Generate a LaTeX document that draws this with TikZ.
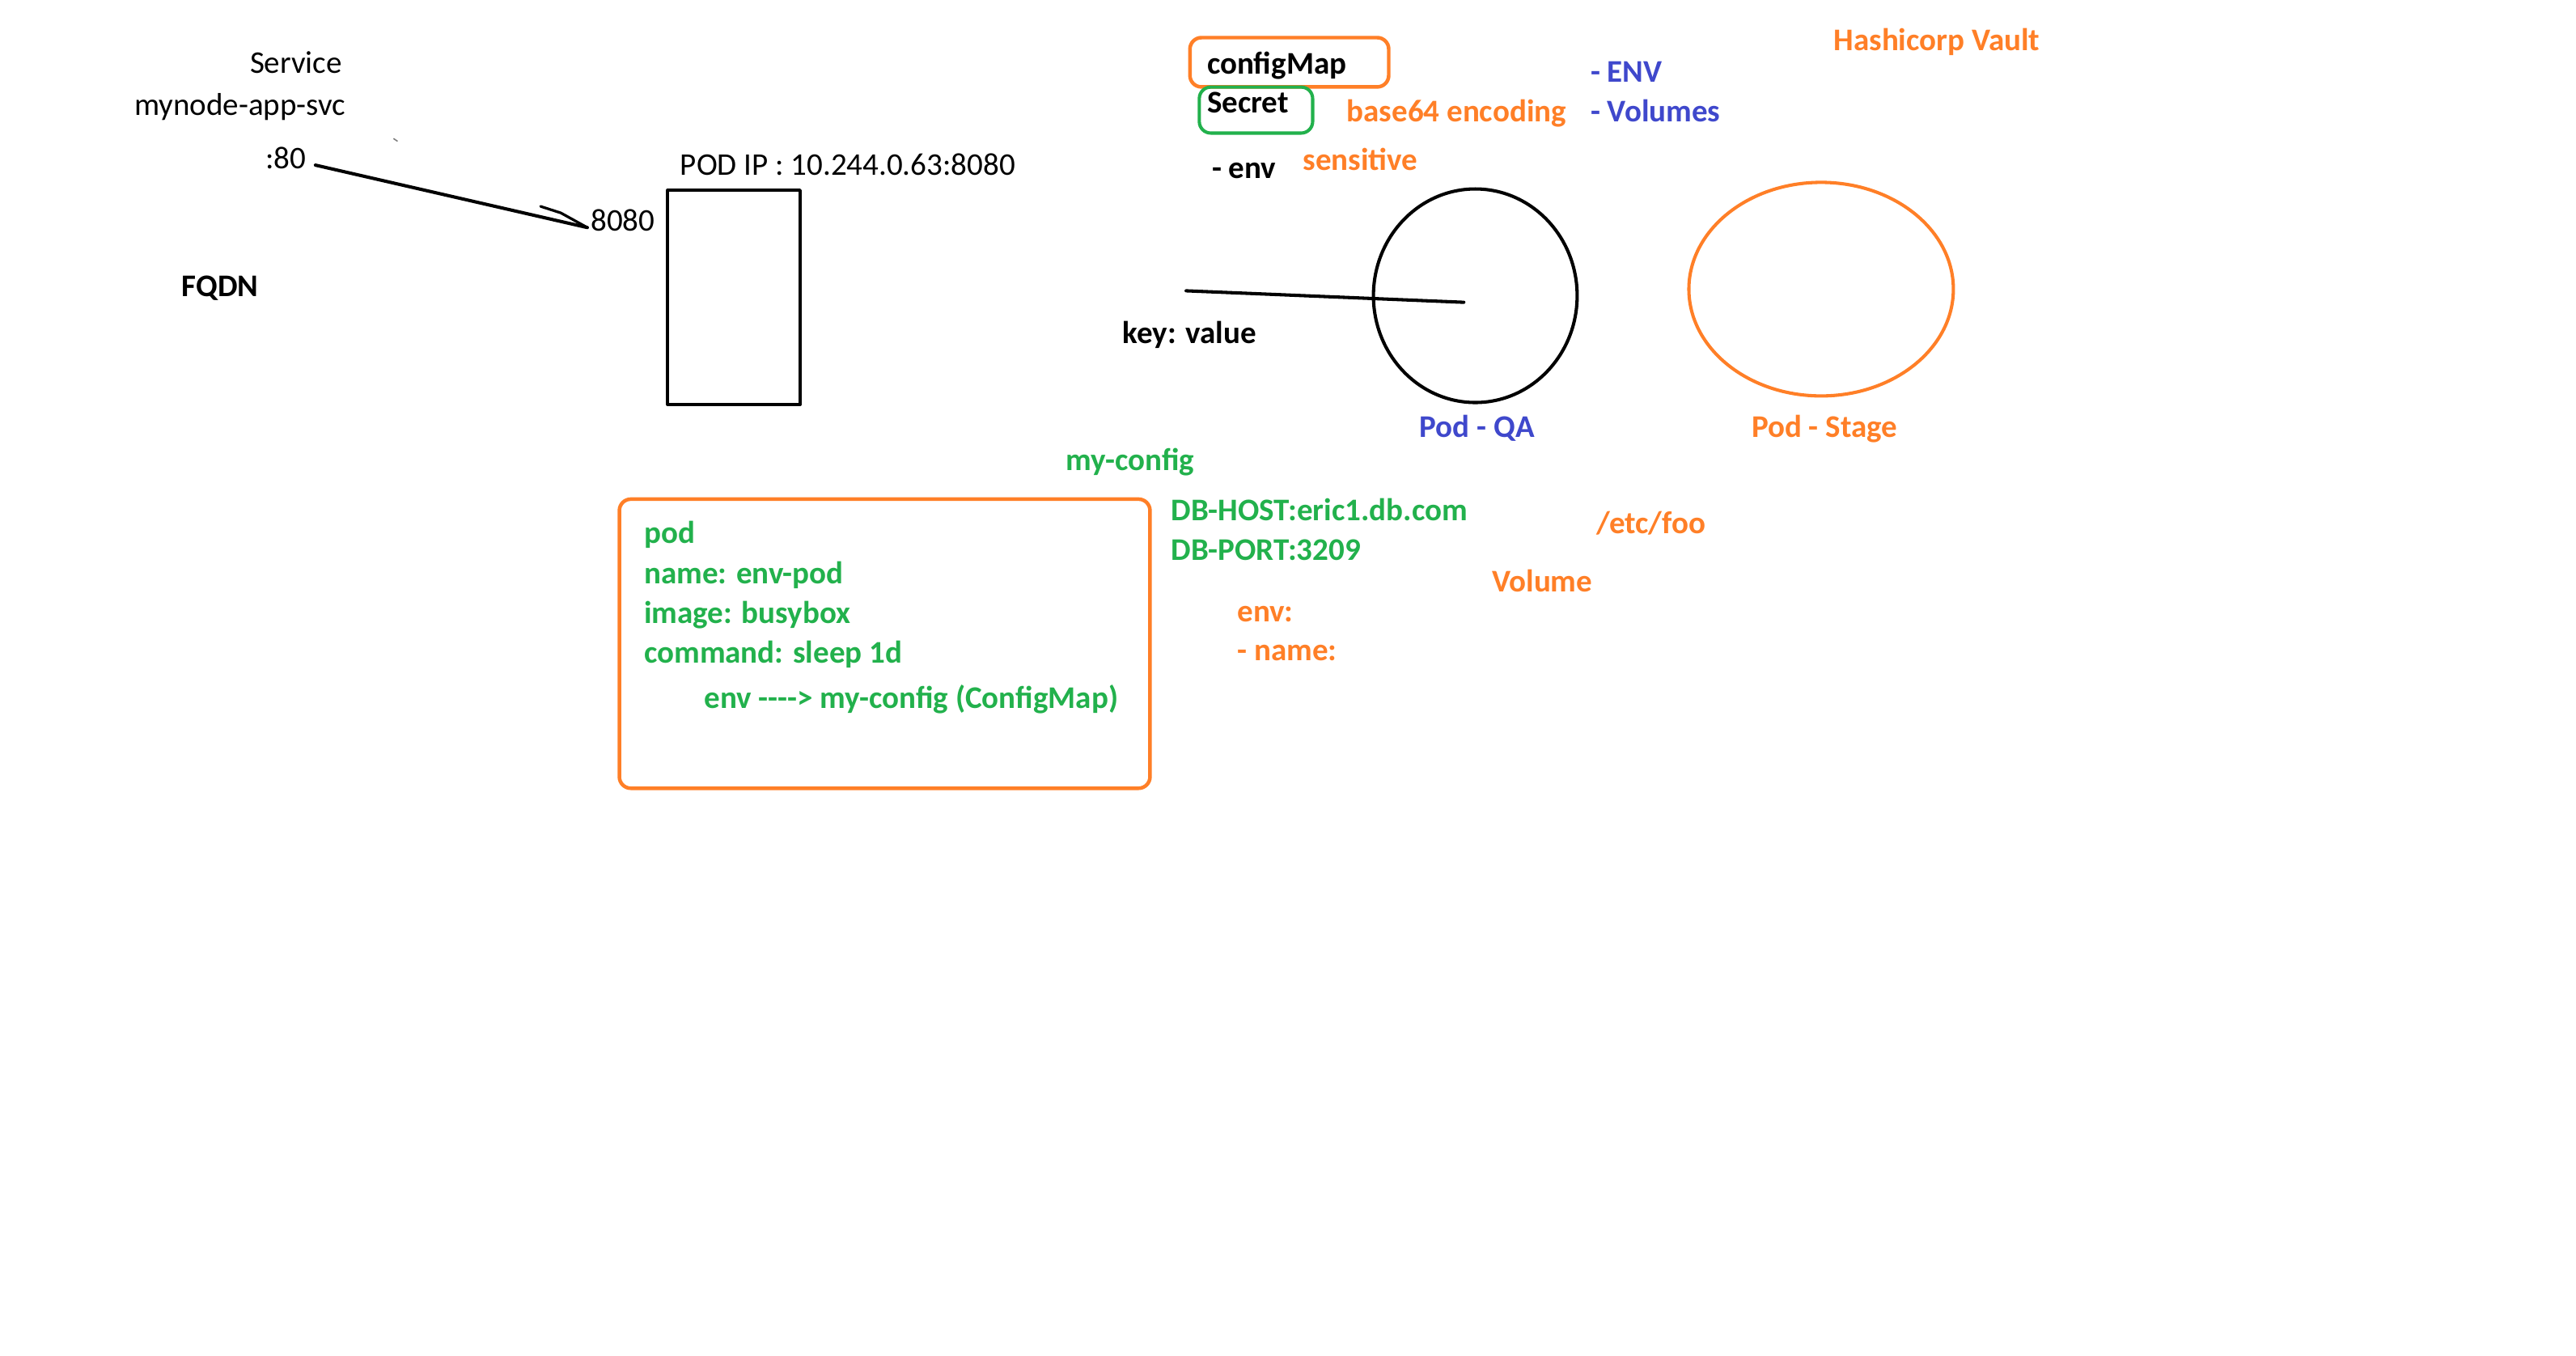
\documentclass[tikz,border=0pt]{standalone}
\usepackage{fontspec}
\setmainfont{Carlito}
\usetikzlibrary{shapes.geometric}
\definecolor{paintorange}{HTML}{FF7F27}
\definecolor{paintgreen}{HTML}{22B14C}
\definecolor{paintblue}{HTML}{3F48CC}
\newcommand\diagfont{\fontsize{19.2}{23}\selectfont}
\tikzset{
  lbl/.style={anchor=base west, inner sep=0pt, font=\diagfont},
  rlbl/.style={anchor=base east, inner sep=0pt, font=\diagfont},
  blbl/.style={anchor=base west, inner sep=0pt, font=\diagfont\bfseries},
  pen/.style={line width=2pt, line cap=round, line join=round},
  tag/.style={draw, rounded corners=7pt, line width=2.2pt, inner sep=0pt},
}
\begin{document}
\begin{tikzpicture}[x=1pt, y=-1pt]
  \useasboundingbox[fill=white] (0,0) rectangle (1568,825);
  % service side
  \node[rlbl] (svc) at (208.4,44.7) {Service};
  \node[rlbl] (svcname) at (210.5,70.3) {mynode-app-svc};
  \node[lbl] (port80) at (161.5,102.6) {:80};
  \node[lbl] (port8080) at (359.5,140.4) {8080};
  \node[lbl] (podip) at (413.9,106.4) {POD IP : 10.244.0.63:8080};
  \node[blbl] (fqdn) at (110.5,180.6) {FQDN};
  \node[draw, pen, minimum width=80.5pt, minimum height=130.5pt, inner sep=0pt] (podbox) at (446.75,181) {};
  \coordinate (lnA) at (192,100.5);
  \coordinate (lnB) at (357.5,138.5);
  \coordinate (hookA) at (329,125.6);
  \coordinate (hookB) at (341.4,129.6);
  \draw[pen] (lnA) -- (lnB);
  \draw[pen, line width=1.6pt] (hookA) -- (hookB) -- (lnB);
  \draw[gray, line width=0.8pt] (239.5,84.3) -- (242,86);
  % configMap / secret
  \node[tag, draw=paintorange, minimum width=121pt, minimum height=30pt] (cmbox) at (784.8,37.9) {};
  \node[blbl] (cmtext) at (734.6,45) {configMap};
  \node[tag, draw=paintgreen, line width=2pt, minimum width=69pt, minimum height=28pt] (secbox) at (764.5,67) {};
  \node[blbl] (sectext) at (734.6,68.6) {Secret};
  \node[blbl, text=paintorange] (b64) at (819.6,74) {base64 encoding};
  \node[blbl, text=paintblue] (envopt) at (968,50) {- ENV};
  \node[blbl, text=paintblue] (volopt) at (968,74) {- Volumes};
  \node[blbl, text=paintorange] (vault) at (1116,31) {Hashicorp Vault};
  \node[blbl] (envitem) at (737.5,108.8) {- env};
  \node[blbl, text=paintorange] (sensitive) at (793,103.8) {sensitive};
  % pods
  \node[draw, pen, ellipse, minimum width=124pt, minimum height=130pt, inner sep=0pt] (podqa) at (898,180) {};
  \node[draw=paintorange, pen, ellipse, minimum width=161pt, minimum height=130pt, inner sep=0pt] (podstage) at (1108.5,176) {};
  \coordinate (keyA) at (722,177);
  \coordinate (keyB) at (891,184);
  \draw[pen] (keyA) -- (keyB);
  \node[blbl] (keyval) at (683.3,209) {key: value};
  \node[blbl, text=paintblue] (qalabel) at (864,266) {Pod - QA};
  \node[blbl, text=paintorange] (stagelabel) at (1066,266) {Pod - Stage};
  % pod spec
  \node[blbl, text=paintgreen] (myconfig) at (648.6,286.5) {my-config};
  \node[tag, draw=paintorange, minimum width=323pt, minimum height=176pt] (yamlbox) at (538.5,391.8) {};
  \node[blbl, text=paintgreen] (l1) at (391.9,330.8) {pod};
  \node[blbl, text=paintgreen] (l2) at (391.9,355.4) {name: env-pod};
  \node[blbl, text=paintgreen] (l3) at (391.9,379.5) {image: busybox};
  \node[blbl, text=paintgreen] (l4) at (391.9,403.8) {command: sleep 1d};
  \node[blbl, text=paintgreen] (l5) at (428.5,430.9) {env -{}-{}-{}-> my-config (ConfigMap)};
  \node[blbl, text=paintgreen] (dbhost) at (712.6,316.7) {DB-HOST:eric1.db.com};
  \node[blbl, text=paintgreen] (dbport) at (712.6,340.8) {DB-PORT:3209};
  \node[blbl, text=paintorange] (etcfoo) at (971.5,324.6) {/etc/foo};
  \node[blbl, text=paintorange] (volume) at (908,360.3) {Volume};
  \node[blbl, text=paintorange] (envkey) at (753,378.4) {env:};
  \node[blbl, text=paintorange] (namekey) at (753,402.2) {- name:};
\end{tikzpicture}
\end{document}
